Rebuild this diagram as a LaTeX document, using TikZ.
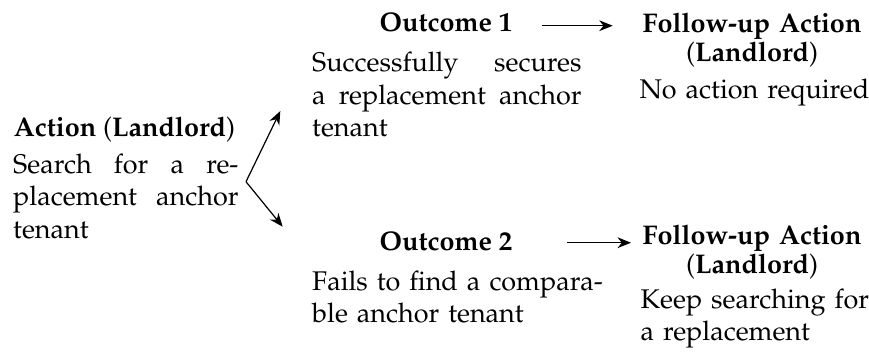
\documentclass[tikz,border=0pt]{standalone}
\usepackage[T1]{fontenc}
\usepackage{mathpazo}
\usetikzlibrary{arrows.meta}
\tikzset{
  ttl/.style={font=\bfseries, inner sep=0pt, anchor=base, align=center},
  bodyj/.style={inner sep=0pt, anchor=base west, align=justify},
  bodyl/.style={inner sep=0pt, anchor=base west, align=left},
  arr/.style={-{Stealth[length=5pt,width=4pt,inset=1.6pt]}, line width=0.45pt}
}
\begin{document}
\begin{tikzpicture}[x=0.37037pt,y=-0.37037pt]
\useasboundingbox (0,0) rectangle (869,362);
% left block
\node[ttl, anchor=base west] (t0) at (13.3,136.7) {Action \mdseries(\bfseries Landlord\mdseries)};
\node[bodyj, text width=83.4pt] (b0) at (12.7,173.3) {Search for a re-\linebreak placement anchor\linebreak tenant};
% outcome 1
\node[ttl] (t1) at (446,31.7) {Outcome 1};
\node[bodyj, text width=99.7pt] (b1) at (311.7,71.7) {Successfully secures\linebreak a replacement anchor\linebreak tenant};
% outcome 2
\node[ttl] (t2) at (446,250) {Outcome 2};
\node[bodyl, text width=99.7pt] (b2) at (311.7,290) {\hbox to 98.5pt{Fails to find a compara-}\\ble anchor tenant};
% follow-up 1
\node[ttl, text width=95pt] (t3) at (752,32.7) {Follow-up Action\\[-1.2pt]\mdseries(\bfseries Landlord\mdseries)};
\node[bodyl, text width=90pt] (b3) at (639,98) {No action required};
% follow-up 2
\node[ttl, text width=95pt] (t4) at (752,244.3) {Follow-up Action\\[-1.2pt]\mdseries(\bfseries Landlord\mdseries)};
\node[bodyl, text width=90pt] (b4) at (640,308.5) {Keep searching for\\a replacement};
% connectors
\coordinate (v) at (246,181.7);
\coordinate (u) at (280.3,111);
\coordinate (d) at (282.7,226.7);
\coordinate (a1s) at (541.7,25.7);
\coordinate (a1e) at (612.7,25.7);
\coordinate (a2s) at (566.7,242.7);
\coordinate (a2e) at (631,242.7);
\draw[arr] (v) -- (u);
\draw[arr] (v) -- (d);
\draw[arr] (a1s) -- (a1e);
\draw[arr] (a2s) -- (a2e);
\end{tikzpicture}
\end{document}
